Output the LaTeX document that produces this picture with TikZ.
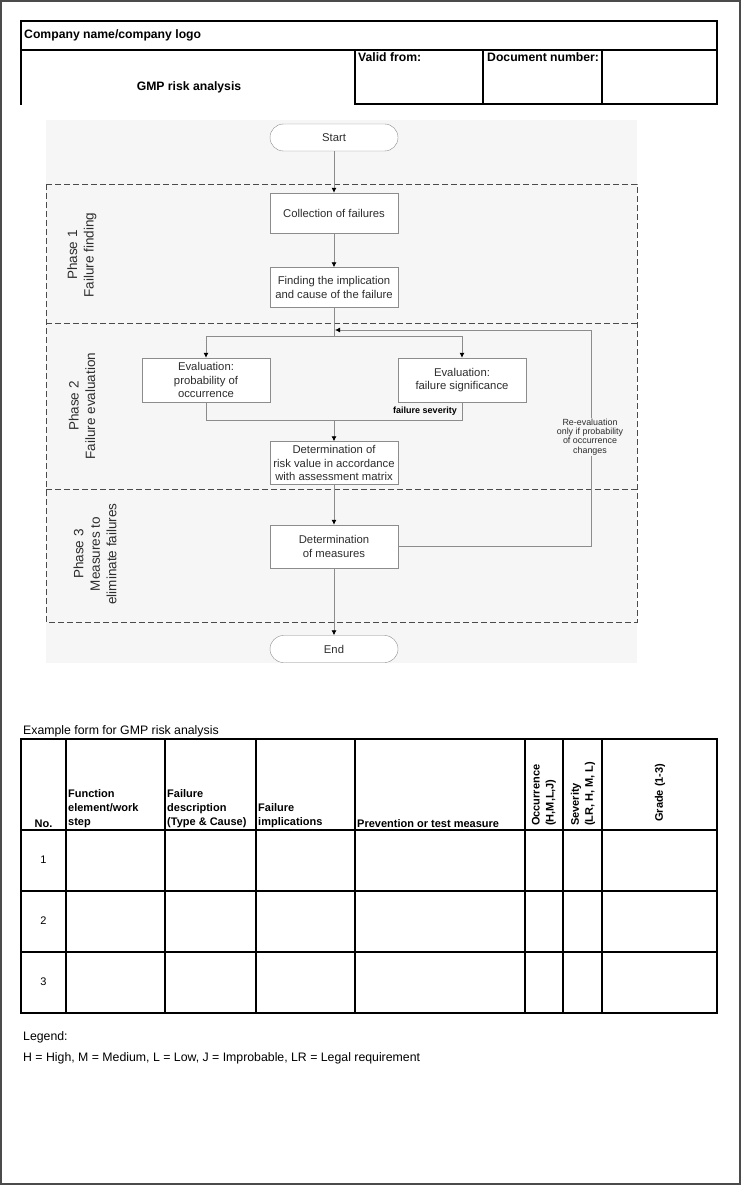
\documentclass[tikz,border=0pt]{standalone}
\usepackage{fontspec}
\setmainfont{Liberation Sans}
\usetikzlibrary{arrows.meta,positioning}
\definecolor{gmpbg}{RGB}{246,246,246}
\definecolor{gmpline}{RGB}{140,140,140}
\definecolor{gmpdash}{RGB}{75,75,75}
\definecolor{gmptext}{RGB}{45,45,45}

\begin{document}
\begin{tikzpicture}[x=1pt,y=-1pt,
    hdr/.style={font=\fontsize{12.2}{14}\selectfont\bfseries,inner sep=0pt},
    th/.style={font=\fontsize{11}{14}\selectfont\bfseries,inner sep=2pt,align=left},
    txt/.style={font=\fontsize{12.3}{14}\selectfont,inner sep=0pt},
    frm/.style={line width=1.6pt,line cap=rect},
    tline/.style={line width=1.2pt},
    box/.style={draw=gmpline,fill=white,minimum width=128pt,minimum height=43pt,
                align=center,text=gmptext,font=\fontsize{11.3}{13.5}\selectfont,inner sep=1pt},
    term/.style={box,minimum height=27pt,rounded corners=13.5pt},
    phase/.style={rotate=90,align=center,text=gmptext,font=\fontsize{13.5}{16.5}\selectfont},
    pdash/.style={draw=gmpdash,line width=0.9pt,dash pattern=on 6pt off 3pt},
    fline/.style={draw=gmpline,line width=0.8pt},
    farrow/.style={fline,-{Latex[length=5pt,width=5pt,color=black]}}]
    \useasboundingbox (0,0) rectangle (741,1185);
    \draw[gmpdash,line width=1.6pt] (1,1) rectangle (740,1184);

    \draw[frm] (21,104) -- (21,21) -- (717,21) -- (717,104) -- (355,104) -- (355,50);
    \draw[frm] (21,50) -- (717,50);
    \draw[frm] (483,50) -- (483,104);
    \draw[frm] (602,50) -- (602,104);
    \node[hdr,anchor=west] (logo) at (24,35) {Company name/company logo};
    \node[hdr] (doc) at (189,87) {GMP risk analysis};
    \node[hdr,anchor=north west] (valid) at (358,52) {Valid from:};
    \node[hdr,anchor=north west] (docno) at (487,52) {Document number:};

    \fill[gmpbg] (46,120) rectangle (637,663);
    \draw[pdash] (46,184) rectangle (637,622);
    \foreach \y in {323,489} \draw[pdash] (46,\y) -- (637,\y);
    \node[phase] (ph1) at (82,255) {Phase 1\\Failure finding};
    \node[phase] (ph2) at (82,406) {Phase 2\\Failure evaluation};
    \node[phase] (ph3) at (95,554) {Phase 3\\Measures to\\eliminate failures};

    \node[term] (start) at (334,137.5) {Start};
    \node[box,minimum height=40pt] (coll) at (334,213) {Collection of failures};
    \node[box,minimum height=40pt] (find) at (334,287.5) {Finding the implication\\and cause of the failure};
    \node[box,minimum height=44pt] (evp) at (206,380) {Evaluation:\\probability of\\occurrence};
    \node[box,minimum height=44pt] (evs) at (462,380) {Evaluation:\\failure significance};
    \node[box] (risk) at (334,463) {Determination of\\risk value in accordance\\with assessment matrix};
    \node[box] (meas) at (334,546.5) {Determination\\of measures};
    \node[term] (end) at (334,649) {End};
    \coordinate (split) at (334,336);
    \coordinate (merge) at (334,420);
    \coordinate (fbtop) at (591,330);
    \coordinate (fbend) at (335,330);

    \draw[farrow] (start) -- (coll);
    \draw[farrow] (coll) -- (find);
    \draw[fline] (find) -- (split);
    \draw[farrow] (split) -| (evp.north);
    \draw[farrow] (split) -| (evs.north);
    \draw[fline] (evp.south) |- (merge);
    \draw[fline] (evs.south) |- (merge);
    \draw[farrow] (merge) -- (risk);
    \draw[farrow] (risk) -- (meas);
    \draw[farrow] (meas) -- (end);
    \draw[farrow] (meas.east) -| (fbtop) -- (fbend);
    \node[fill=gmpbg,align=center,text=gmptext,inner sep=1pt,
          font=\fontsize{8.9}{9.3}\selectfont] (reval) at (590,437)
          {Re-evaluation\\only if probability\\of occurrence\\changes};
    \node[font=\fontsize{9}{10}\selectfont\bfseries,inner sep=0pt] (sev) at (425,411) {failure severity};

    \node[txt,anchor=west] (title) at (23,731) {Example form for GMP risk analysis};
    \draw[frm] (21,739) rectangle (717,1013);
    \foreach \x in {66,165,256,355,525,563,602} \draw[tline] (\x,739) -- (\x,1013);
    \foreach \y in {830,891,952} \draw[tline] (21,\y) -- (717,\y);
    \node[th,anchor=south] (hno) at (43.5,830) {No.};
    \node[th,anchor=south west] (hfun) at (66,830) {Function\\element/work\\step};
    \node[th,anchor=south west] (hdesc) at (165,830) {Failure\\description\\(Type \& Cause)};
    \node[th,anchor=south west] (himp) at (256,830) {Failure\\implications};
    \node[th,anchor=south west] (hprev) at (355,830) {Prevention or test measure};
    \node[th,rotate=90,anchor=west] (hocc) at (544,828) {Occurrence\\(H,M,L,J)};
    \node[th,rotate=90,anchor=west] (hsev) at (583,828) {Severity\\(LR, H, M, L)};
    \node[th,rotate=90,anchor=west] (hgrade) at (660,824) {Grade (1-3)};
    \foreach \y/\n in {860/1,921/2,982/3}
      \node[font=\fontsize{11}{13}\selectfont] (row\n) at (43.5,\y) {\n};

    \node[txt,anchor=west] (legend) at (23,1037) {Legend:};
    \node[txt,anchor=west] (keys) at (23,1058) {H = High, M = Medium, L = Low, J = Improbable, LR = Legal requirement};
\end{tikzpicture}
\end{document}
